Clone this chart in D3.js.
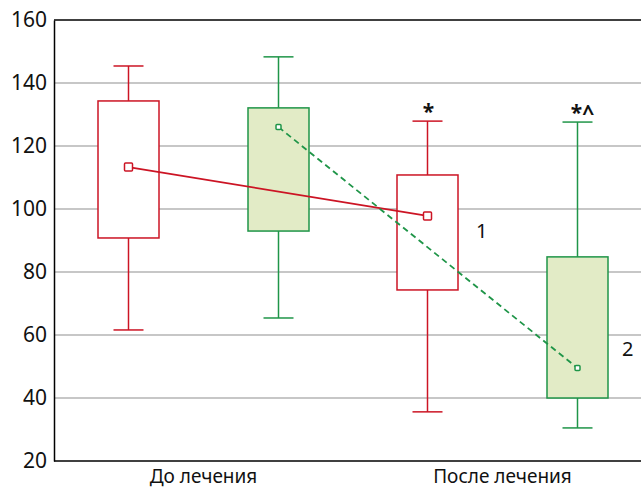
<!DOCTYPE html>
<html>
<head>
<meta charset="utf-8">
<script src="https://cdn.jsdelivr.net/npm/d3@7"></script>
<style>
body{margin:0;background:#fff}
text{font-family:"Noto Sans",sans-serif}
</style>
</head>
<body>
<svg></svg>
<script>
var groups = ["До лечения", "После лечения"]
var series = ["1", "2"]
// per box: whisker low, Q1, Q3, whisker high, mean
var lowVals  = [[61.6, 65.4], [35.6, 30.5]]
var q1Vals   = [[90.8, 93.0], [74.3, 40.0]]
var q3Vals   = [[134.3, 132.1], [110.8, 84.8]]
var highVals = [[145.4, 148.3], [127.9, 127.6]]
var meanVals = [[113.3, 126.0], [97.8, 49.5]]
var marks    = [["", ""], ["*", "*^"]]
var yTicks = [20, 40, 60, 80, 100, 120, 140, 160]

var width = 641, height = 488
var padLeft = 54, padTop = 20, padBottom = 461

var svg = d3.select("svg").attr("width", width).attr("height", height)

var yScale = d3.scaleLinear().domain([20, 160]).range([padBottom, padTop])
var xScale = d3.scaleBand().domain(groups).range([padLeft, 652])
var sScale = d3.scalePoint().domain(series).range([-75, 75])

var stroke = {"1": "#cc1424", "2": "#1f9548"}
var fill = {"1": "#ffffff", "2": "#e2ebc6"}

// gridlines
svg.append("g")
    .selectAll("line")
    .data(yTicks.filter(d => d > 20 && d < 160))
    .enter()
    .append("line")
        .attr("x1", padLeft).attr("x2", width)
        .attr("y1", d => yScale(d)).attr("y2", d => yScale(d))
        .attr("stroke", "#b4b4b4").attr("stroke-width", 1.3)

var yAxis = d3.axisLeft(yScale).tickValues(yTicks).tickSize(0).tickPadding(7)
var ya = svg.append("g").attr("transform", "translate(" + padLeft + ",0)").call(yAxis)
ya.select(".domain").attr("stroke", "#000").attr("stroke-width", 1.5)
ya.selectAll("text").attr("font-size", 21).attr("fill", "#111")
    .attr("font-family", "Noto Sans")

var xAxis = d3.axisBottom(xScale).tickSize(0).tickPadding(9)
var xa = svg.append("g").attr("transform", "translate(0," + padBottom + ")").call(xAxis)
xa.select(".domain").remove()
xa.selectAll("text").attr("font-size", 19).attr("fill", "#111")
    .attr("font-family", "Noto Sans")

svg.append("line").attr("x1", padLeft).attr("x2", width)
    .attr("y1", padBottom).attr("y2", padBottom).attr("stroke", "#000").attr("stroke-width", 1.5)
svg.append("line").attr("x1", padLeft).attr("x2", width)
    .attr("y1", padTop).attr("y2", padTop).attr("stroke", "#000").attr("stroke-width", 1.5)

var boxes = []
groups.forEach(function(g, gi){
    series.forEach(function(s, si){
        boxes.push({g: g, s: s, gi: gi, si: si,
            low: lowVals[gi][si], q1: q1Vals[gi][si], q3: q3Vals[gi][si],
            high: highVals[gi][si], mean: meanVals[gi][si], mark: marks[gi][si]})
    })
})
function cx(d){ return xScale(d.g) + xScale.bandwidth() / 2 + sScale(d.s) }

var bw = 61, cap = 30
var bg = svg.append("g").selectAll("g").data(boxes).enter().append("g")

bg.append("line")
    .attr("x1", d => cx(d)).attr("x2", d => cx(d))
    .attr("y1", d => yScale(d.high)).attr("y2", d => yScale(d.q3))
    .attr("stroke", d => stroke[d.s]).attr("stroke-width", 1.5)
bg.append("line")
    .attr("x1", d => cx(d)).attr("x2", d => cx(d))
    .attr("y1", d => yScale(d.q1)).attr("y2", d => yScale(d.low))
    .attr("stroke", d => stroke[d.s]).attr("stroke-width", 1.5)
bg.append("line")
    .attr("x1", d => cx(d) - cap / 2).attr("x2", d => cx(d) + cap / 2)
    .attr("y1", d => yScale(d.high)).attr("y2", d => yScale(d.high))
    .attr("stroke", d => stroke[d.s]).attr("stroke-width", 1.5)
bg.append("line")
    .attr("x1", d => cx(d) - cap / 2).attr("x2", d => cx(d) + cap / 2)
    .attr("y1", d => yScale(d.low)).attr("y2", d => yScale(d.low))
    .attr("stroke", d => stroke[d.s]).attr("stroke-width", 1.5)
bg.append("rect")
    .attr("x", d => cx(d) - bw / 2).attr("width", bw)
    .attr("y", d => yScale(d.q3)).attr("height", d => yScale(d.q1) - yScale(d.q3))
    .attr("fill", d => fill[d.s]).attr("stroke", d => stroke[d.s]).attr("stroke-width", 1.5)
bg.append("text")
    .text(d => d.mark)
    .attr("x", d => cx(d) + (d.mark.length > 1 ? 5 : 1))
    .attr("y", d => yScale(d.high) - 2)
    .attr("text-anchor", "middle")
    .attr("font-size", 21).attr("font-weight", "bold").attr("fill", "#111")

// mean lines
series.forEach(function(s){
    var pts = boxes.filter(d => d.s == s)
    svg.append("path")
        .attr("d", d3.line().x(d => cx(d)).y(d => yScale(d.mean))(pts))
        .attr("fill", "none").attr("stroke", stroke[s]).attr("stroke-width", 1.8)
        .attr("stroke-dasharray", s == "2" ? "6,4" : null)
})
svg.append("g").selectAll("rect").data(boxes).enter().append("rect")
    .attr("x", d => cx(d) - (d.s == "1" ? 4 : 2.5))
    .attr("y", d => yScale(d.mean) - (d.s == "1" ? 4 : 2.5))
    .attr("width", d => d.s == "1" ? 8 : 5)
    .attr("height", d => d.s == "1" ? 8 : 5)
    .attr("rx", 1)
    .attr("fill", "#fff").attr("stroke", d => stroke[d.s]).attr("stroke-width", 1.5)

// series labels next to the last boxes
var labelDx = {"1": 18, "2": 14}
var labelDy = {"1": 22, "2": -12}
var lastBoxes = boxes.filter(d => d.gi == 1)
svg.append("g").selectAll("text").data(lastBoxes).enter().append("text")
    .text(d => d.s)
    .attr("x", d => cx(d) + bw / 2 + labelDx[d.s])
    .attr("y", d => yScale(d.mean) + labelDy[d.s])
    .attr("text-anchor", "start")
    .attr("font-size", 20).attr("fill", "#111")
</script>
</body>
</html>
